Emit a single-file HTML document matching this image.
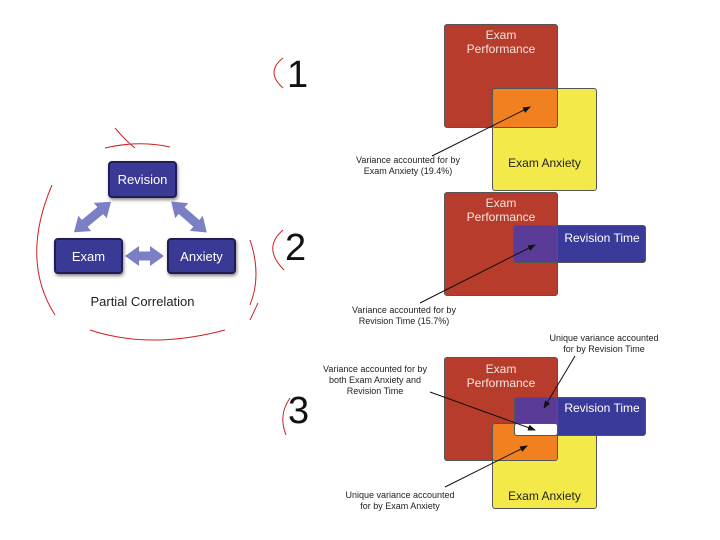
<!DOCTYPE html>
<html><head><style>
body{margin:0;width:720px;height:540px;background:#fff;overflow:hidden;position:relative;font-family:"Liberation Sans",sans-serif}
.b{position:absolute;box-sizing:border-box;border:1.5px solid #555;border-radius:3px}
.t{position:absolute;font-size:9px;color:#222;text-align:center;line-height:11px;white-space:nowrap}
.w{position:absolute;color:#f3e6e0;font-size:12px;text-align:center;line-height:14px}
.n{position:absolute;font-size:38px;color:#111}
.nb{position:absolute;background:#3a3a96;border:2px solid #1e1e55;border-radius:4px;color:#fff;font-size:13px;display:flex;align-items:center;justify-content:center;box-shadow:1px 2px 3px #888;box-sizing:border-box}
</style></head><body>
<div class="b" style="left:444px;top:24px;width:114px;height:104px;background:#b83c2c"></div>
<div class="b" style="left:492px;top:88px;width:105px;height:103px;background:#f3ea4a"></div>
<div class="b" style="left:492px;top:88px;width:66px;height:40px;background:#f08020"></div>
<div class="w" style="left:444px;top:28px;width:114px">Exam<br>Performance</div>
<div class="t" style="left:492px;top:158px;width:105px;font-size:12px;color:#222">Exam Anxiety</div>
<div class="t" style="left:340px;top:155px;width:136px">Variance accounted for by<br>Exam Anxiety (19.4%)</div>
<div class="b" style="left:444px;top:192px;width:114px;height:104px;background:#b83c2c"></div>
<div class="b" style="left:513px;top:225px;width:133px;height:38px;background:#3a3a9a"></div>
<div class="b" style="left:513px;top:225px;width:45px;height:38px;background:#5a3c98"></div>
<div class="w" style="left:444px;top:196px;width:114px">Exam<br>Performance</div>
<div class="w" style="left:558px;top:231px;width:88px;color:#fff">Revision Time</div>
<div class="t" style="left:336px;top:305px;width:136px">Variance accounted for by<br>Revision Time (15.7%)</div>
<div class="b" style="left:444px;top:357px;width:114px;height:104px;background:#b83c2c"></div>
<div class="b" style="left:492px;top:423px;width:105px;height:86px;background:#f3ea4a"></div>
<div class="b" style="left:492px;top:423px;width:66px;height:38px;background:#f08020"></div>
<div class="b" style="left:514px;top:397px;width:132px;height:39px;background:#3a3a9a"></div>
<div class="b" style="left:514px;top:397px;width:44px;height:39px;background:#5a3c98"></div>
<div class="b" style="left:514px;top:423px;width:44px;height:13px;background:#fff"></div>
<div class="w" style="left:444px;top:362px;width:114px">Exam<br>Performance</div>
<div class="w" style="left:558px;top:401px;width:88px;color:#fff">Revision Time</div>
<div class="t" style="left:492px;top:491px;width:105px;font-size:12px">Exam Anxiety</div>
<div class="t" style="left:310px;top:364px;width:130px">Variance accounted for by<br>both Exam Anxiety and<br>Revision Time</div>
<div class="t" style="left:536px;top:333px;width:136px">Unique variance accounted<br>for by Revision Time</div>
<div class="t" style="left:340px;top:490px;width:120px">Unique variance accounted<br>for by Exam Anxiety</div>
<svg width="720" height="540" style="position:absolute;left:0;top:0">
<defs><marker id="a" markerWidth="8" markerHeight="8" refX="7" refY="4" orient="auto"><path d="M0,1 L8,4 L0,7z" fill="#111"/></marker>
<marker id="p" markerUnits="userSpaceOnUse" markerWidth="14" markerHeight="20" refX="1" refY="10" orient="auto-start-reverse"><path d="M0,0 L14,10 L0,20z" fill="#7b7fc4"/></marker></defs>
<g stroke="#111" stroke-width="1" fill="none" marker-end="url(#a)">
<line x1="432" y1="156" x2="530" y2="107"/>
<line x1="420" y1="303" x2="535" y2="245"/>
<line x1="430" y1="392" x2="535" y2="430"/>
<line x1="445" y1="487" x2="527" y2="446"/>
<line x1="575" y1="356" x2="544" y2="408"/>
</g>
<g stroke="#7b7fc4" stroke-width="9" marker-start="url(#p)" marker-end="url(#p)">
<line x1="84" y1="224" x2="101" y2="210"/>
<line x1="181" y1="210" x2="197" y2="224"/>
<line x1="138" y1="256" x2="151" y2="256"/>
</g>
<g stroke="#c22" stroke-width="1" fill="none">
<path d="M283,58 Q265,72 283,88"/>
<path d="M283,230 Q262,248 284,270"/>
<path d="M290,398 Q278,415 286,435"/>
<path d="M52,185 Q20,260 55,315"/>
<path d="M90,330 Q150,350 225,330"/>
<path d="M105,148 Q140,140 170,147"/>
<path d="M115,128 Q125,140 135,148"/>
<path d="M250,240 Q262,275 250,305"/>
<path d="M250,320 L258,303"/>
</g>
</svg>
<div class="n" style="left:287px;top:54px">1</div>
<div class="n" style="left:285px;top:227px">2</div>
<div class="n" style="left:288px;top:390px">3</div>
<div class="nb" style="left:108px;top:161px;width:69px;height:37px">Revision</div>
<div class="nb" style="left:54px;top:238px;width:69px;height:36px">Exam</div>
<div class="nb" style="left:167px;top:238px;width:69px;height:36px">Anxiety</div>
<div class="t" style="left:80px;top:294px;width:125px;font-size:13px;line-height:15px">Partial Correlation</div>
</body></html>
